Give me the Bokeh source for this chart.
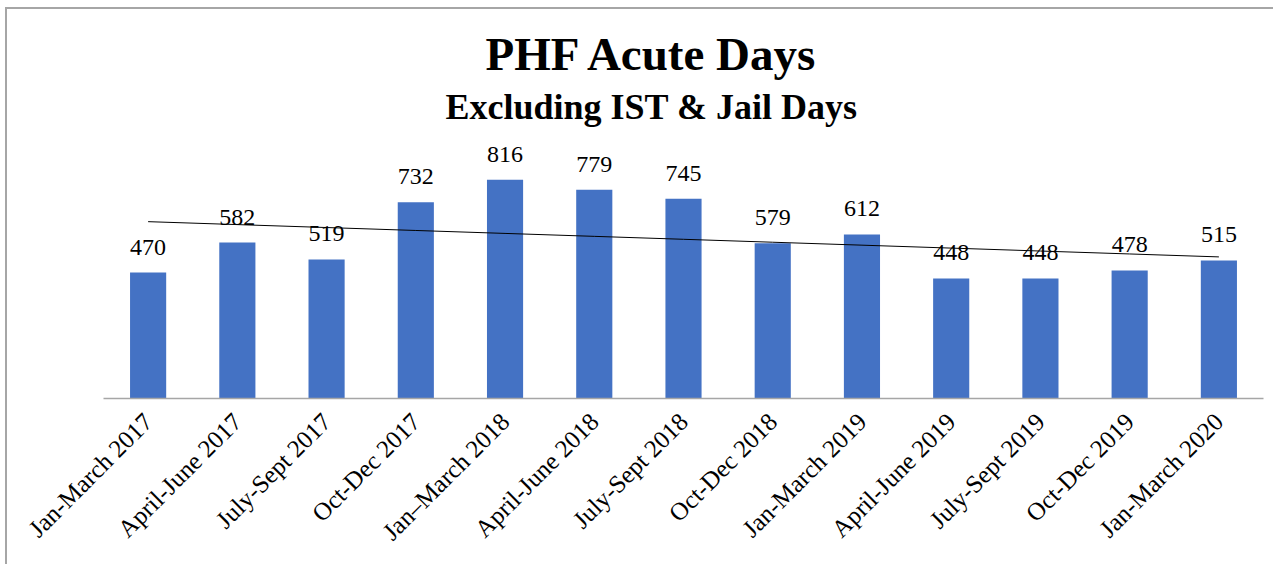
import numpy as np
from math import pi
from bokeh.plotting import figure
from bokeh.models import ColumnDataSource, LabelSet, Title, Range1d, FactorRange
from bokeh.core.properties import value
from bokeh.embed import file_html
from bokeh.resources import INLINE

categories = ["Jan-March 2017", "April-June 2017", "July-Sept 2017", "Oct-Dec 2017",
              "Jan\u2013March 2018", "April-June 2018", "July-Sept 2018", "Oct-Dec 2018",
              "Jan-March 2019", "April-June 2019", "July-Sept 2019", "Oct-Dec 2019",
              "Jan-March 2020"]
values = [470, 582, 519, 732, 816, 779, 745, 579, 612, 448, 448, 478, 515]
title_text = "PHF Acute Days"
subtitle_text = "Excluding IST & Jail Days"

# linear trendline fitted to the data
idx = np.arange(len(values))
slope, intercept = np.polyfit(idx, values, 1)
trend = list(slope * idx + intercept)

FONT = "Liberation Serif"
BAR = "#4472C4"

src = ColumnDataSource(dict(cat=categories, val=values, lab=[str(v) for v in values]))

p = figure(x_range=FactorRange(*categories, range_padding=0),
           y_range=Range1d(0, 1000),
           width=1268, height=557,
           output_backend="svg", toolbar_location=None,
           min_border_left=96, min_border_right=12,
           min_border_top=121, min_border_bottom=168)

p.vbar(x="cat", top="val", width=0.405, source=src, fill_color=BAR, line_color=None)
p.line(x=categories, y=trend, line_color="black", line_width=1)

labels = LabelSet(x="cat", y="val", text="lab", source=src, y_offset=18,
                  text_align="center", text_baseline="alphabetic",
                  text_font=value(FONT), text_font_size="24px", text_color="#000000")
p.add_layout(labels)

p.title.text = title_text
p.title.text_font = FONT
p.title.text_font_size = "47px"
p.title.text_font_style = "bold"
p.title.text_color = "#000000"
p.title.align = "left"
p.title.offset = 382
p.title.standoff = 2

sub = Title(text=subtitle_text, text_font=FONT, text_font_size="36px",
            text_font_style="bold", text_color="#000000", align="left",
            offset=342, standoff=8)
p.add_layout(sub, "above")

p.yaxis.visible = False
p.xgrid.grid_line_color = None
p.ygrid.grid_line_color = None
p.outline_line_color = None

ax = p.xaxis[0]
ax.axis_line_color = "#a6a6a6"
ax.axis_line_width = 1.5
ax.major_tick_line_color = None
ax.minor_tick_line_color = None
ax.major_label_orientation = pi / 4
ax.major_label_standoff = 13
ax.major_label_text_font = FONT
ax.major_label_text_font_size = "25px"
ax.major_label_text_color = "#000000"

p.styles = {"margin-left": "5px", "margin-top": "7px",
            "border-left": "2px solid #a6a6a6", "border-top": "2px solid #a6a6a6"}

open("out.html", "w").write(file_html(p, INLINE))
